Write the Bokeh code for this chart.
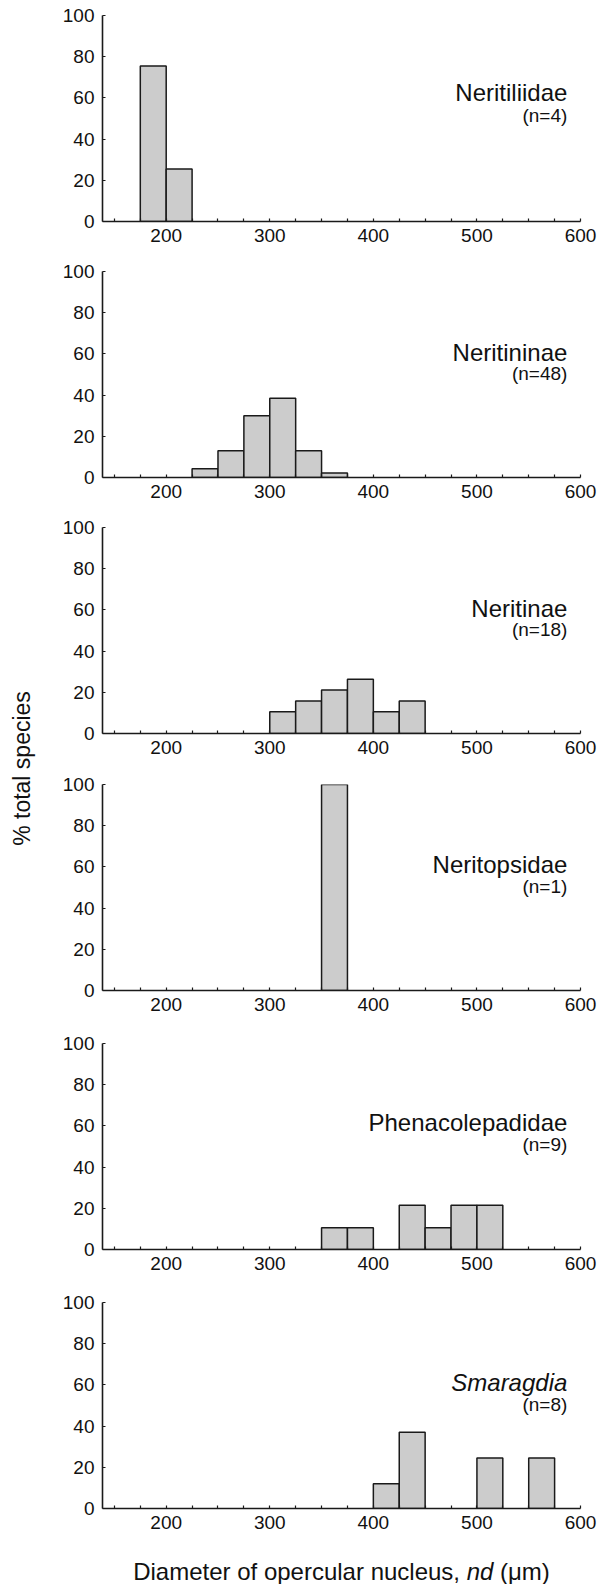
import math
from bokeh.plotting import figure
from bokeh.models import Range1d, FixedTicker, Label
from bokeh.layouts import row, column
from bokeh.embed import file_html
from bokeh.resources import INLINE

# ---------------- data ----------------
bin_width = 25
groups = ["Neritiliidae", "Neritininae", "Neritinae", "Neritopsidae",
          "Phenacolepadidae", "Smaragdia"]
n_labels = ["(n=4)", "(n=48)", "(n=18)", "(n=1)", "(n=9)", "(n=8)"]

neritiliidae_bins = [175, 200]
neritiliidae_pct = [75.5, 25.5]

neritininae_bins = [225, 250, 275, 300, 325, 350]
neritininae_pct = [4.3, 13.0, 30.0, 38.5, 13.0, 2.2]

neritinae_bins = [300, 325, 350, 375, 400, 425]
neritinae_pct = [10.5, 15.8, 21.1, 26.3, 10.5, 15.8]

neritopsidae_bins = [350]
neritopsidae_pct = [100]

phenacolepadidae_bins = [350, 375, 425, 450, 475, 500]
phenacolepadidae_pct = [10.5, 10.5, 21.5, 10.5, 21.5, 21.5]

smaragdia_bins = [400, 425, 500, 550]
smaragdia_pct = [12, 37, 24.5, 24.5]

x_major_ticks = [200, 300, 400, 500, 600]
x_minor_ticks = [150, 175, 225, 250, 275, 325, 350, 375, 425, 450, 475, 525, 550, 575]
y_ticks = [0, 20, 40, 60, 80, 100]

x_title_parts = ["Diameter of opercular nucleus,", "nd", "\u00a0(μm)"]
y_title = "% total species"

series = [
    (neritiliidae_bins, neritiliidae_pct),
    (neritininae_bins, neritininae_pct),
    (neritinae_bins, neritinae_pct),
    (neritopsidae_bins, neritopsidae_pct),
    (phenacolepadidae_bins, phenacolepadidae_pct),
    (smaragdia_bins, smaragdia_pct),
]

# ---------------- style / layout ----------------
FONT = "Liberation Sans"
TXT = "#111111"
X0, X1 = 138.5, 600
FRAME_H = 206
LEFT_W = 38
PANEL_W = 562
BL, BR = 64, 20
tops = [15, 20, 20, 21, 23, 23]
bottoms = [30, 30, 30, 30, 30, 32]
name_y = [62.6, 60.8, 60.8, 61.3, 61.5, 61.0]
n_y = [51.3, 50.3, 50.3, 50.6, 50.8, 50.3]

figs = []
for i, (bins, pct) in enumerate(series):
    h = tops[i] + FRAME_H + bottoms[i]
    p = figure(width=PANEL_W, height=h, x_range=Range1d(X0, X1), y_range=Range1d(0, 100),
               output_backend="svg", toolbar_location=None,
               min_border_left=BL, min_border_right=BR,
               min_border_top=tops[i], min_border_bottom=bottoms[i])
    p.grid.visible = False
    p.outline_line_color = None
    centers = [b + bin_width / 2 for b in bins]
    p.vbar(x=centers, width=bin_width, top=pct, bottom=0,
           fill_color="#cccccc", line_color="#1a1a1a", line_width=1.5)

    xa = p.xaxis[0]
    xa.ticker = FixedTicker(ticks=x_major_ticks, minor_ticks=x_minor_ticks)
    xa.major_tick_in = 3
    xa.major_tick_out = 0
    xa.minor_tick_in = 3
    xa.minor_tick_out = 0
    xa.major_label_standoff = 7
    ya = p.yaxis[0]
    ya.ticker = FixedTicker(ticks=y_ticks, minor_ticks=[])
    ya.major_tick_in = 3
    ya.major_tick_out = 0
    ya.minor_tick_in = 0
    ya.minor_tick_out = 0
    ya.major_label_standoff = 8
    for ax in (xa, ya):
        ax.axis_line_color = "#1a1a1a"
        ax.axis_line_width = 1.6
        ax.major_tick_line_color = "#1a1a1a"
        ax.major_tick_line_width = 1.2
        ax.minor_tick_line_color = "#1a1a1a"
        ax.minor_tick_line_width = 1.2
        ax.major_label_text_font = FONT
        ax.major_label_text_font_size = "19px"
        ax.major_label_text_color = TXT

    style = "italic" if groups[i] == "Smaragdia" else "normal"
    p.add_layout(Label(x=587.3, y=name_y[i], text=groups[i], text_align="right",
                       text_baseline="alphabetic", text_font=FONT, text_font_size="24px",
                       text_font_style=style, text_color=TXT))
    p.add_layout(Label(x=587.3, y=n_y[i], text=n_labels[i], text_align="right",
                       text_baseline="alphabetic", text_font=FONT, text_font_size="19px",
                       text_color=TXT))
    figs.append(p)

# x-axis title strip (frame aligned with the panels)
T_H = 44
tfig = figure(width=PANEL_W, height=T_H, x_range=Range1d(X0, X1), y_range=Range1d(0, 1),
              output_backend="svg", toolbar_location=None, x_axis_type=None, y_axis_type=None,
              min_border_left=BL, min_border_right=BR, min_border_top=0, min_border_bottom=0)
tfig.grid.visible = False
tfig.outline_line_color = None
fs = 24
ems = [13.894, 1.112, 2.353]
px_per_unit = (PANEL_W - BL - BR) / (X1 - X0)
total_px = sum(ems) * fs
start = (X0 + X1) / 2 - total_px / 2 / px_per_unit
xs = [start, start + ems[0] * fs / px_per_unit, start + (ems[0] + ems[1]) * fs / px_per_unit]
styles = ["normal", "italic", "normal"]
for xx, tt, ss in zip(xs, x_title_parts, styles):
    tfig.add_layout(Label(x=xx, y=0.3, text=tt, text_align="left", text_baseline="alphabetic",
                          text_font=FONT, text_font_size=f"{fs}px", text_font_style=ss,
                          text_color=TXT))

total_h = sum(t + FRAME_H + b for t, b in zip(tops, bottoms)) + T_H

# y-axis title strip
lfig = figure(width=LEFT_W, height=total_h, x_range=Range1d(0, LEFT_W), y_range=Range1d(0, total_h),
              output_backend="svg", toolbar_location=None, x_axis_type=None, y_axis_type=None,
              min_border=0)
lfig.grid.visible = False
lfig.outline_line_color = None
lfig.add_layout(Label(x=21, y=total_h - 768, text=y_title, angle=math.pi / 2,
                      text_align="center", text_baseline="middle", text_font=FONT,
                      text_font_size="23px", text_color=TXT))

layout = row(lfig, column(*figs, tfig))
open("out.html", "w").write(file_html(layout, INLINE))
